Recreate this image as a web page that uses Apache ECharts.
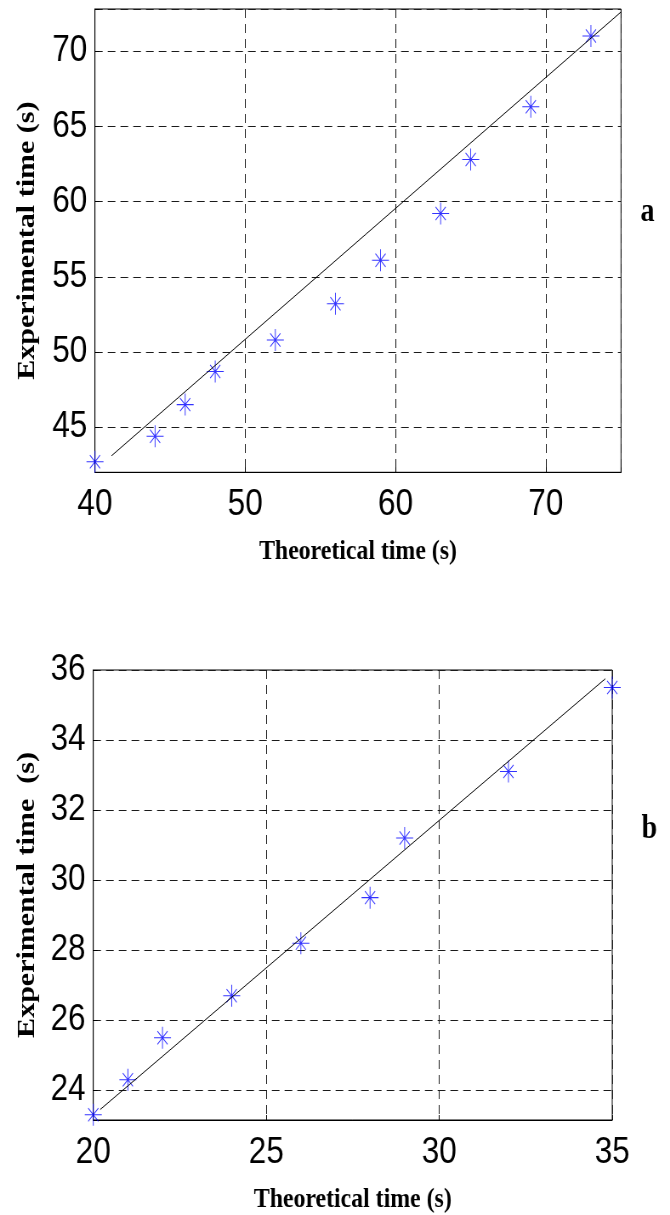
<!DOCTYPE html>
<html>
<head>
<meta charset="utf-8">
<script src="https://cdn.jsdelivr.net/npm/echarts@6/dist/echarts.min.js"></script>
<style>
  html, body { margin: 0; padding: 0; background: #fff; overflow: hidden; }
  /* figure is laid out wide and squeezed horizontally, like the exported plot */
  #chart { width: 788px; height: 1215px; transform: scaleX(0.8503); transform-origin: 0 0; }
</style>
</head>
<body>
<div id="chart"></div>
<script>
// Panel a: theoretical vs experimental time
const theoTimeA = [40, 44, 46, 48, 52, 56, 59, 63, 65, 69, 73];
const expTimeA  = [42.7, 44.4, 46.5, 48.7, 50.8, 53.2, 56.1, 59.2, 62.8, 66.3, 71.0];
const fitTheoA  = [41.1, 75];
const fitExpA   = [43.1, 72.6];
const xTicksA   = [40, 50, 60, 70];
const yTicksA   = [45, 50, 55, 60, 65, 70];
const xRangeA   = [40, 75];
const yRangeA   = [42, 72.8];

// Panel b
const theoTimeB = [20, 21, 22, 24, 26, 28, 29, 32, 35];
const expTimeB  = [23.3, 24.3, 25.5, 26.7, 28.2, 29.5, 31.2, 33.1, 35.5];
const fitTheoB  = [20.2, 34.8];
const fitExpB   = [23.45, 35.75];
const xTicksB   = [20, 25, 30, 35];
const yTicksB   = [24, 26, 28, 30, 32, 34, 36];
const xRangeB   = [20, 35];
const yRangeB   = [23.15, 36];

const pairs = (xs, ys) => xs.map((x, i) => [x, ys[i]]);
const step = ticks => ticks[1] - ticks[0];

const ASTERISK = 'path://M10,0L10,20M0,10L20,10M4,4L16,16M4,16L16,4';
const tickFont = { fontFamily: '"Liberation Sans", Arial, sans-serif', fontSize: 37, color: '#000' };
const nameFont = { fontFamily: '"Liberation Serif", "Times New Roman", serif', fontWeight: 'bold', color: '#000' };
const gridDash = { show: true, lineStyle: { color: '#1a1a1a', width: 1, type: [9, 6] } };

function labelOnly(ticks) {
  return v => (ticks.indexOf(Math.round(v * 1000) / 1000) >= 0 ? String(v) : '');
}

function valueAxis(gridIndex, range, ticks, opts) {
  const s = step(ticks);
  return Object.assign({
    type: 'value',
    gridIndex: gridIndex,
    min: range[0],
    max: range[1],
    minInterval: s,
    maxInterval: s,
    splitNumber: ticks.length,
    axisLine: { show: true, onZero: false, lineStyle: { color: '#000', width: 1 } },
    axisTick: { show: true, inside: true, length: 5, lineStyle: { color: '#000' } },
    splitLine: gridDash,
    nameLocation: 'middle'
  }, opts);
}

const chart = echarts.init(document.getElementById('chart'), null, { renderer: 'canvas' });

chart.setOption({
  backgroundColor: '#fff',
  animation: false,
  grid: [
    { left: 111.7, right: 57.7, top: 9, height: 463.3, show: true, borderColor: '#000', borderWidth: 1, backgroundColor: 'transparent' },
    { left: 109.7, right: 68, top: 670, height: 455.7, show: true, borderColor: '#000', borderWidth: 1, backgroundColor: 'transparent' }
  ],
  xAxis: [
    valueAxis(0, xRangeA, xTicksA, {
      name: 'Theoretical time (s)', nameGap: 65,
      nameTextStyle: Object.assign({ fontSize: 28 }, nameFont),
      axisLabel: Object.assign({ margin: 14, formatter: labelOnly(xTicksA) }, tickFont)
    }),
    valueAxis(1, xRangeB, xTicksB, {
      name: 'Theoretical time (s)', nameGap: 66,
      nameTextStyle: Object.assign({ fontSize: 28 }, nameFont),
      axisLabel: Object.assign({ margin: 14, formatter: labelOnly(xTicksB) }, tickFont)
    })
  ],
  yAxis: [
    valueAxis(0, yRangeA, yTicksA, {
      name: 'Experimental time (s)', nameGap: 64,
      nameTextStyle: Object.assign({ fontSize: 30 }, nameFont),
      axisLabel: Object.assign({ margin: 9, formatter: labelOnly(yTicksA) }, tickFont)
    }),
    valueAxis(1, yRangeB, yTicksB, {
      name: 'Experimental time  (s)', nameGap: 62,
      nameTextStyle: Object.assign({ fontSize: 30 }, nameFont),
      axisLabel: Object.assign({ margin: 9, formatter: labelOnly(yTicksB) }, tickFont)
    })
  ],
  series: [
    {
      type: 'line', xAxisIndex: 0, yAxisIndex: 0,
      data: pairs(fitTheoA, fitExpA),
      symbol: 'none', silent: true,
      lineStyle: { color: '#000', width: 1 }
    },
    {
      type: 'scatter', xAxisIndex: 0, yAxisIndex: 0,
      data: pairs(theoTimeA, expTimeA),
      symbol: ASTERISK, symbolSize: [20, 22],
      itemStyle: { color: 'rgba(0,0,0,0)', borderColor: '#0000ff', borderWidth: 1 }
    },
    {
      type: 'line', xAxisIndex: 1, yAxisIndex: 1,
      data: pairs(fitTheoB, fitExpB),
      symbol: 'none', silent: true,
      lineStyle: { color: '#000', width: 1 }
    },
    {
      type: 'scatter', xAxisIndex: 1, yAxisIndex: 1,
      data: pairs(theoTimeB, expTimeB),
      symbol: ASTERISK, symbolSize: [20, 22],
      itemStyle: { color: 'rgba(0,0,0,0)', borderColor: '#0000ff', borderWidth: 1 }
    }
  ],
  graphic: [
    { type: 'text', x: 761.5, y: 212, style: { text: 'a', align: 'center', verticalAlign: 'middle', font: 'bold 33px "Liberation Serif", serif', fill: '#000' } },
    { type: 'text', x: 763.8, y: 829, style: { text: 'b', align: 'center', verticalAlign: 'middle', font: 'bold 33px "Liberation Serif", serif', fill: '#000' } }
  ]
});
</script>
</body>
</html>
